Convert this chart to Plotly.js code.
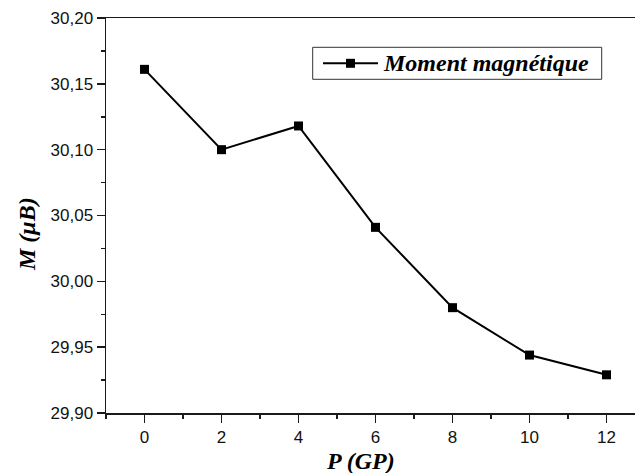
<!DOCTYPE html>
<html>
<head>
<meta charset="utf-8">
<script src="https://cdn.plot.ly/plotly-3.0.1.min.js"></script>
<style>
  html, body { margin: 0; padding: 0; background: #fff; overflow: hidden; width: 635px; height: 473px; }
  #chart { width: 660px; height: 473px; }
</style>
</head>
<body>
<div id="chart"></div>
<script>
// Pressure (GPa) and magnetic moment (μB)
const pressure = [0, 2, 4, 6, 8, 10, 12];
const moment = [30.161, 30.100, 30.118, 30.041, 29.980, 29.944, 29.929];
const seriesName = 'Moment magnétique';
const xTitle = 'P (GP)';
const yTitle = 'M (μB)';

const serif = "'Liberation Serif', 'Times New Roman', serif";
const sans = "'Liberation Sans', Arial, sans-serif";
const axisColor = '#1a1a1a';

// the frame runs on past the right edge of the page, so only its left/top/bottom sides show
const W = 660, H = 473;
const M = { l: 106, r: 0, t: 18, b: 60 };
const plotW = W - M.l - M.r;
const plotH = H - M.t - M.b;
// pixel -> paper helpers for the legend box and titles
const px = v => (v - M.l) / plotW;
const py = v => (H - M.b - v) / plotH;

const trace = {
  x: pressure,
  y: moment,
  name: seriesName,
  type: 'scatter',
  mode: 'lines+markers',
  line: { color: '#000', width: 2 },
  marker: { symbol: 'square', size: 9, color: '#000' },
  showlegend: false
};

const axisCommon = {
  showgrid: false,
  zeroline: false,
  showline: true,
  linecolor: axisColor,
  linewidth: 1.5,
  ticks: 'outside',
  ticklen: 8,
  tickwidth: 1.5,
  tickcolor: axisColor,
  tickfont: { family: sans, size: 17, color: '#111' }
};

const titleFont = { family: serif, size: 24, color: '#000', weight: 'bold', style: 'italic' };

// legend: framed box with line + square sample and label
const legY = py(63.3);
const legendShapes = [
  { type: 'rect', xref: 'paper', yref: 'paper',
    x0: px(312.7), x1: px(601.7), y0: py(79.3), y1: py(47.3),
    line: { color: '#333', width: 1 }, fillcolor: '#fff' },
  { type: 'line', xref: 'paper', yref: 'paper',
    x0: px(323), x1: px(378), y0: legY, y1: legY,
    line: { color: '#000', width: 2 } },
  { type: 'rect', xref: 'paper', yref: 'paper',
    x0: px(346), x1: px(355), y0: py(67.8), y1: py(58.8),
    line: { width: 0 }, fillcolor: '#000' }
];

const layout = {
  width: W,
  height: H,
  margin: M,
  paper_bgcolor: '#fff',
  plot_bgcolor: '#fff',
  separators: ',.',
  showlegend: false,
  xaxis: Object.assign({}, axisCommon, {
    mirror: true,
    range: [-1, -1 + plotW / 38.5],
    tick0: 0,
    dtick: 2,
    minor: { dtick: 1, ticks: 'outside', ticklen: 4, tickwidth: 1.5, tickcolor: axisColor }
  }),
  yaxis: Object.assign({}, axisCommon, {
    mirror: false,
    range: [29.90, 30.20],
    tick0: 29.90,
    dtick: 0.05,
    tickformat: '.2f',
    minor: { dtick: 0.025, ticks: 'outside', ticklen: 4, tickwidth: 1.5, tickcolor: axisColor }
  }),
  shapes: legendShapes,
  annotations: [
    {
      text: seriesName,
      xref: 'paper', yref: 'paper',
      x: px(381), y: legY,
      xanchor: 'left', yanchor: 'middle',
      showarrow: false,
      font: titleFont
    },
    {
      text: yTitle,
      xref: 'paper', yref: 'paper',
      x: px(27), y: py(234),
      xanchor: 'center', yanchor: 'middle',
      textangle: -90,
      showarrow: false,
      font: titleFont
    },
    {
      text: xTitle,
      xref: 'paper', yref: 'paper',
      x: px(360), y: py(461),
      xanchor: 'center', yanchor: 'middle',
      showarrow: false,
      font: titleFont
    }
  ]
};

Plotly.newPlot('chart', [trace], layout, { displayModeBar: false, staticPlot: true });
</script>
</body>
</html>
